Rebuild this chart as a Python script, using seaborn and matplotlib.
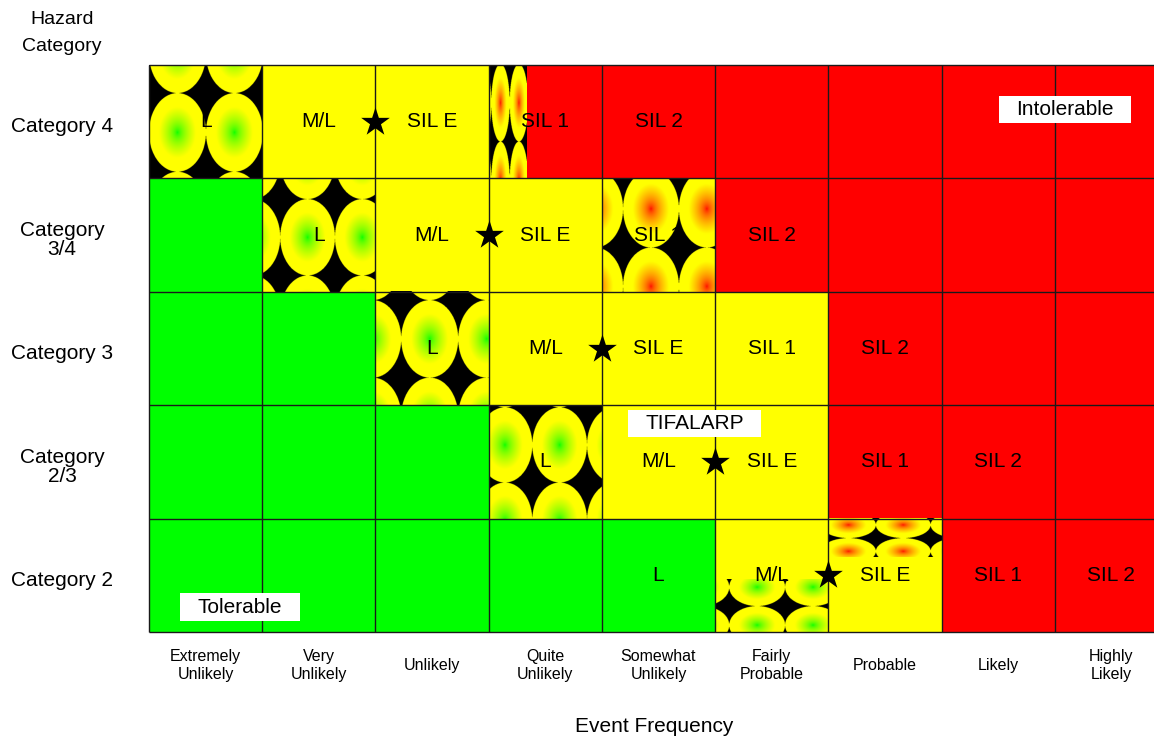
import numpy as np
import pandas as pd
import matplotlib
matplotlib.use("Agg")
import matplotlib.pyplot as plt
from matplotlib.colors import ListedColormap
from matplotlib.patches import Rectangle
from matplotlib.transforms import ScaledTranslation
import seaborn as sns

# ---------------------------------------------------------------- data
categories = ["Category 4", "Category\n3/4", "Category 3", "Category\n2/3", "Category 2"]
frequencies = ["Extremely\nUnlikely", "Very\nUnlikely", "Unlikely", "Quite\nUnlikely",
               "Somewhat\nUnlikely", "Fairly\nProbable", "Probable", "Likely", "Highly\nLikely"]

# risk zone per cell: 0 = tolerable, 1 = ALARP, 2 = intolerable
zone_cat4 = [1, 1, 1, 2, 2, 2, 2, 2, 2]
zone_cat34 = [0, 1, 1, 1, 2, 2, 2, 2, 2]
zone_cat3 = [0, 0, 1, 1, 1, 1, 2, 2, 2]
zone_cat23 = [0, 0, 0, 1, 1, 1, 2, 2, 2]
zone_cat2 = [0, 0, 0, 0, 0, 1, 1, 2, 2]

# required integrity level per cell
sil_cat4 = ["L", "M/L", "SIL E", "SIL 1", "SIL 2", "", "", "", ""]
sil_cat34 = ["", "L", "M/L", "SIL E", "SIL 1", "SIL 2", "", "", ""]
sil_cat3 = ["", "", "L", "M/L", "SIL E", "SIL 1", "SIL 2", "", ""]
sil_cat23 = ["", "", "", "L", "M/L", "SIL E", "SIL 1", "SIL 2", ""]
sil_cat2 = ["", "", "", "", "L", "M/L", "SIL E", "SIL 1", "SIL 2"]

# frequency column where the M/L -> SIL E boundary sits, per category
star_boundary = [2, 3, 4, 5, 6]

# transition cells drawn with a textured fill: (row, column, core colour)
transition_cells = [(0, 0, "green"), (1, 1, "green"), (2, 2, "green"), (3, 3, "green"),
                    (0, 3, "red"), (1, 4, "red"), (4, 5, "green"), (4, 6, "red")]

zone_names = ["Intolerable", "TIFALARP", "Tolerable"]

# ---------------------------------------------------------------- style
# texture geometry per transition cell, in cell fractions:
# (x0, x1, y0, y1) region, (tile w, tile h), (phase x, phase y)
texture_geom = [
    ((0, 1, 0, 1), (0.50, 0.69), (0.25, 0.60)),
    ((0, 1, 0, 1), (0.48, 0.67), (0.40, 0.52)),
    ((0, 1, 0, 1), (0.50, 0.68), (0.48, 0.42)),
    ((0, 1, 0, 1), (0.48, 0.66), (0.62, 0.35)),
    ((0, 0.33, 0, 1), (0.16, 0.68), (0.10, 0.34)),
    ((0, 1, 0, 1), (0.49, 0.68), (0.43, 0.27)),
    ((0, 1, 0.54, 1), (0.49, 0.33), (0.37, 0.61)),
    ((0, 1, 0, 0.34), (0.48, 0.23), (0.18, 0.06)),
]
core_rgb = {"green": (0.0, 1.0, 0.0), "red": (1.0, 0.0, 0.0)}
zone_label_xy = [(8.09, 0.39), (4.82, 3.16), (0.80, 4.78)]
zone_box_w = [1.17, 1.17, 1.06]
zone_box_h = 0.24

sns.set_theme(style="white")
plt.rcParams["font.family"] = ["Liberation Sans", "DejaVu Sans"]
plt.rcParams.update({"text.color": "black", "xtick.color": "black",
                     "ytick.color": "black", "axes.labelcolor": "black"})

W, H = 1154, 738
fig = plt.figure(figsize=(W / 100, H / 100), dpi=100)
ax = fig.add_axes([149 / W, 1 - 632 / H, 1019 / W, 567 / H])

zones = pd.DataFrame([zone_cat4, zone_cat34, zone_cat3, zone_cat23, zone_cat2],
                     index=categories, columns=frequencies)
sils = np.array([sil_cat4, sil_cat34, sil_cat3, sil_cat23, sil_cat2])

cmap = ListedColormap(["#00FF00", "#FFFF00", "#FF0000"])
sns.heatmap(zones, cmap=cmap, vmin=-0.5, vmax=2.5, cbar=False, ax=ax,
            annot=sils, fmt="", linewidths=0,
            annot_kws={"color": "black", "fontsize": 15})


def texture(region, tile, phase, core, res=440):
    """Tiled elliptical radial gradients (core -> yellow) on black."""
    x0, x1, y0, y1 = region
    nx = max(2, int(round((x1 - x0) * res)))
    ny = max(2, int(round((y1 - y0) * res)))
    xs = x0 + (np.arange(nx) + 0.5) * (x1 - x0) / nx
    ys = y0 + (np.arange(ny) + 0.5) * (y1 - y0) / ny
    X, Y = np.meshgrid(xs, ys)
    u = (X - phase[0]) / tile[0]
    v = (Y - phase[1]) / tile[1]
    du = u - np.round(u)
    dv = v - np.round(v)
    r = np.hypot(2 * du, 2 * dv)
    t = np.clip(r / 0.65, 0, 1) ** 0.6
    c = np.array(core)[None, None, :]
    yel = np.array([1.0, 1.0, 0.0])[None, None, :]
    col = c * (1 - t[..., None]) + yel * t[..., None]
    return np.where((r <= 1)[..., None], col, 0.0)


for (row, colm, core), (region, tile, phase) in zip(transition_cells, texture_geom):
    img = texture(region, tile, phase, core_rgb[core])
    x0, x1, y0, y1 = region
    ax.imshow(img, extent=(colm + x0, colm + x1, row + y0, row + y1),
              origin="lower", aspect="auto", zorder=1.5, interpolation="antialiased")

# cell grid
n_rows, n_cols = zones.shape
ax.hlines(np.arange(n_rows + 1), 0, n_cols, colors="#1a1a1a", lw=1.0, zorder=2.5, clip_on=False)
ax.vlines(np.arange(n_cols + 1), 0, n_rows, colors="#1a1a1a", lw=1.0, zorder=2.5, clip_on=False)

# boundary stars
sns.scatterplot(x=np.array(star_boundary, dtype=float), y=np.arange(n_rows) + 0.5,
                marker="*", s=470, color="black", linewidth=0, ax=ax, zorder=5)

# zone labels on white boxes
for name, (zx, zy), bw in zip(zone_names, zone_label_xy, zone_box_w):
    ax.add_patch(Rectangle((zx - bw / 2, zy - zone_box_h / 2), bw, zone_box_h,
                           facecolor="white", edgecolor="none", zorder=3.6))
    ax.text(zx, zy, name, ha="center", va="center", fontsize=15, color="black", zorder=3.7)

ax.set_xlim(0, n_cols)
ax.set_ylim(n_rows, 0)
ax.set_xticks(np.arange(n_cols) + 0.5)
ax.set_xticklabels(frequencies, rotation=0, fontsize=11.5, linespacing=1.25,
                   va="center", color="black")
ax.set_yticks(np.arange(n_rows) + 0.5)
ax.set_yticklabels(categories, rotation=0, fontsize=15, linespacing=1.05,
                   ha="center", va="center", color="black")
ax.tick_params(axis="x", length=0, pad=23.8)
ax.tick_params(axis="y", length=0, pad=62.6)
shift = ScaledTranslation(0, -5 / 100, fig.dpi_scale_trans)
for lab in ax.get_yticklabels():
    lab.set_transform(lab.get_transform() + shift)
ax.set_xlabel("")
ax.set_ylabel("")
for s in ax.spines.values():
    s.set_visible(False)

fig.text(62 / W, 1 - 33 / H, "Hazard\nCategory", ha="center", va="center",
         fontsize=14, linespacing=1.7, color="black")
fig.text(654 / W, 1 - 727 / H, "Event Frequency", ha="center", va="center",
         fontsize=15, color="black")

fig.savefig("out.png", dpi=100)
